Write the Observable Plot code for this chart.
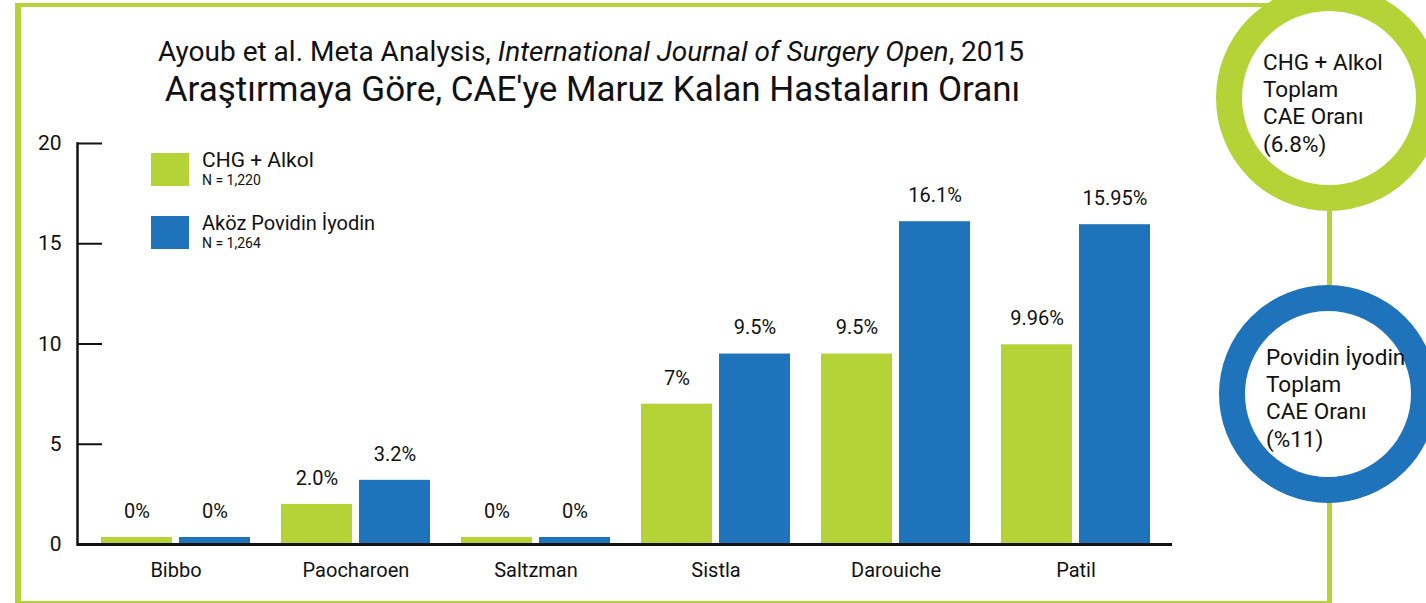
<!DOCTYPE html>
<html><head><meta charset="utf-8">
<script src="https://cdn.jsdelivr.net/npm/d3@7"></script>
<script src="https://cdn.jsdelivr.net/npm/@observablehq/plot@0.6"></script>
<style>
html,body{margin:0;padding:0;background:#fff;}
body{font-family:Roboto,"Liberation Sans",sans-serif;color:#111;}
#wrap{position:relative;width:1426px;height:603px;overflow:hidden;background:#fff;}
.layer{position:absolute;left:0;top:0;}
.abs{position:absolute;white-space:nowrap;line-height:1;}
.g{background:#b5d336;}
.t1{left:0;width:1182px;text-align:center;font-size:28px;top:38.4px;}
.t2{left:0;width:1185px;text-align:center;font-size:35px;top:72px;}
.ring{position:absolute;box-sizing:border-box;border-radius:50%;background:#fff;}
.ctext{position:absolute;font-size:22.5px;line-height:27.4px;white-space:nowrap;}
.sw{position:absolute;width:38px;height:33px;}
</style></head><body>
<div id="wrap">
  <div class="abs g" style="left:15px;top:3px;width:6px;height:600px;"></div>
  <div class="abs g" style="left:15px;top:3px;width:1275px;height:4px;"></div>
  <div class="abs g" style="left:15px;top:601px;width:1317px;height:2px;"></div>
  <div class="abs g" style="left:1327px;top:180px;width:5px;height:423px;"></div>
  <div id="bars" class="layer"></div>
  <div id="axes" class="layer"></div>
  <div class="abs t1">Ayoub et al. Meta Analysis, <i>International Journal of Surgery Open</i>, 2015</div>
  <div class="abs t2">Araştırmaya Göre, CAE'ye Maruz Kalan Hastaların Oranı</div>
  <div id="legend"></div>
  <div class="ring" style="left:1216px;top:-15px;width:226px;height:226px;border:26px solid #b5d336;"></div>
  <div class="ring" style="left:1219px;top:285px;width:218px;height:218px;border:26px solid #1e73bb;"></div>
  <div class="ctext" style="left:1263px;top:48.5px;">CHG + Alkol<br>Toplam<br>CAE Oranı<br>(6.8%)</div>
  <div class="ctext" style="left:1266px;top:343.5px;">Povidin İyodin<br>Toplam<br>CAE Oranı<br>(%11)</div>
</div>
<script>
// ---- data ----
const studies = ["Bibbo", "Paocharoen", "Saltzman", "Sistla", "Darouiche", "Patil"];
const seriesNames = ["CHG + Alkol", "Aköz Povidin İyodin"];
const seriesN = ["N = 1,220", "N = 1,264"];
// bar heights as drawn in the picture (0% bars are drawn as a thin sliver)
const chgValues = [0.35, 2.0, 0.35, 7.0, 9.5, 9.96];
const pviValues = [0.35, 3.2, 0.35, 9.5, 16.1, 15.95];
const chgLabels = ["0%", "2.0%", "0%", "7%", "9.5%", "9.96%"];
const pviLabels = ["0%", "3.2%", "0%", "9.5%", "16.1%", "15.95%"];
const yTicks = [0, 5, 10, 15, 20];
const seriesColors = ["#b5d336", "#1e73bb"];

const rows = [];
studies.forEach((s, i) => {
  rows.push({study: s, series: seriesNames[0], value: chgValues[i], label: chgLabels[i]});
  rows.push({study: s, series: seriesNames[1], value: pviValues[i], label: pviLabels[i]});
});

const common = {
  width: 1426,
  height: 603,
  marginLeft: 77,
  marginRight: 254,
  marginTop: 143,
  marginBottom: 59,
  style: {fontFamily: "Roboto, 'Liberation Sans', sans-serif", fontSize: "20px", color: "#111", background: "transparent", overflow: "visible"}
};

// bars layer (faceted by study, series inside each facet)
const barsChart = Plot.plot({
  ...common,
  fx: {domain: studies, paddingInner: 0.1611, paddingOuter: 0.1222, align: 0.523, label: null},
  x: {domain: seriesNames, paddingInner: 0.0886, paddingOuter: 0, axis: null},
  y: {domain: [0, 20], axis: null},
  color: {domain: seriesNames, range: seriesColors},
  marks: [
    Plot.barY(rows, {fx: "study", x: "series", y: "value", fill: "series"}),
    Plot.text(rows, {fx: "study", x: "series", y: "value", text: "label", dy: -26, fontSize: 20, fill: "#111"}),
    Plot.axisFx({anchor: "bottom", tickSize: 0, tickPadding: 18, fontSize: 20, label: null, fill: "#111"})
  ]
});
document.getElementById("bars").appendChild(barsChart);

// axes layer (same frame and y scale)
const axesChart = Plot.plot({
  ...common,
  y: {domain: [0, 20]},
  marks: [
    Plot.ruleY([0], {stroke: "#111", strokeWidth: 3}),
    Plot.frame({anchor: "left", stroke: "#111", strokeWidth: 2.5}),
    Plot.axisY(yTicks, {anchor: "left", tickSize: -25, tickPadding: 41, strokeWidth: 2, stroke: "#111", fontSize: 21, label: null, fill: "#111"})
  ]
});
document.getElementById("axes").appendChild(axesChart);

// legend (HTML, built from the series arrays)
const legend = document.getElementById("legend");
const swTops = [153, 216];
const legendSizes = [21, 20];
seriesNames.forEach((name, i) => {
  const sw = document.createElement("div");
  sw.className = "sw";
  sw.style.left = "151px";
  sw.style.top = swTops[i] + "px";
  sw.style.background = seriesColors[i];
  legend.appendChild(sw);
  const t = document.createElement("div");
  t.className = "abs";
  t.style.left = "202px";
  t.style.top = (swTops[i] - 3) + "px";
  t.style.fontSize = legendSizes[i] + "px";
  t.textContent = name;
  legend.appendChild(t);
  const n = document.createElement("div");
  n.className = "abs";
  n.style.left = "202px";
  n.style.top = (swTops[i] + 20) + "px";
  n.style.fontSize = "14px";
  n.textContent = seriesN[i];
  legend.appendChild(n);
});
</script>
</body></html>
